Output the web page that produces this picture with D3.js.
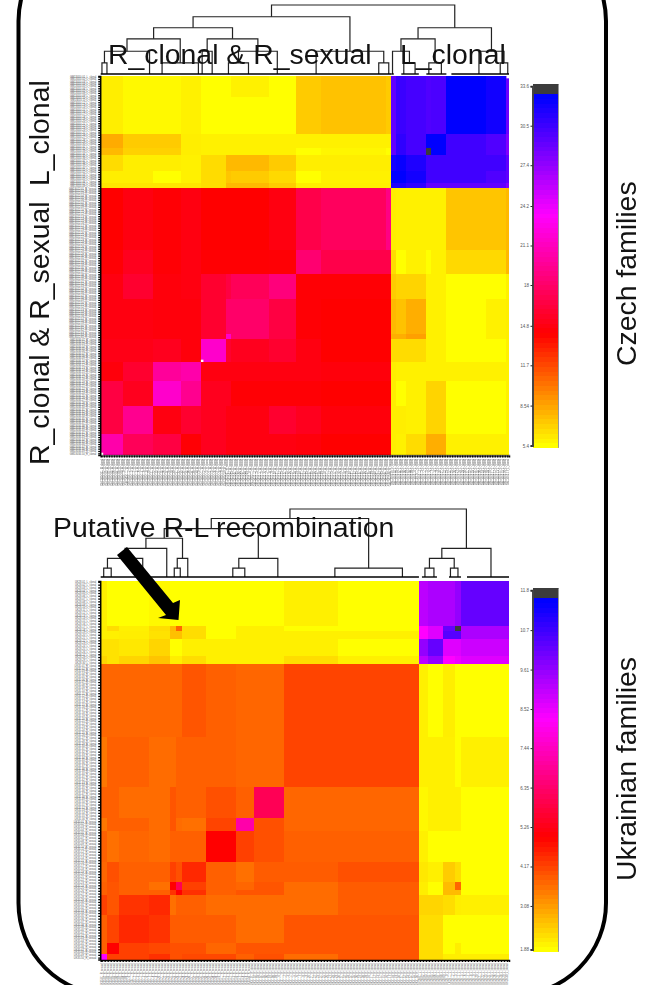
<!DOCTYPE html>
<html>
<head>
<meta charset="utf-8">
<script src="https://cdn.jsdelivr.net/npm/d3@7"></script>
<style>
    html, body { margin: 0; padding: 0; background: #fff; }
    svg { display: block; }
    text { font-family: "Liberation Sans", Arial, sans-serif; }
</style>
</head>
<body>
<div id="chart"></div>
<script>
// Czech families: leaf counts at the end of each block of the clustered matrix
const czechLeaves = 163;
const czechColEnds = [9, 21, 32, 40, 50, 52, 67, 78, 88, 114, 116, 118, 122, 130, 132, 138, 154, 162, 163];
const czechRowEnds = [9, 25, 31, 34, 41, 46, 48, 75, 85, 96, 111, 113, 123, 131, 142, 154, 163];
const czechValues = [
    [6.0, 5.6, 5.6, 5.9, 5.4, 5.4, 5.9, 5.4, 7.2, 7.5, 7.2, 29.2, 30.6, 30.2, 29.8, 30.0, 32.7, 32.1, 28.8],
    [6.0, 5.6, 5.6, 5.9, 5.4, 5.4, 5.4, 5.4, 7.2, 7.5, 7.2, 29.2, 30.6, 30.2, 29.8, 30.0, 32.7, 32.1, 28.8],
    [8.3, 7.2, 7.2, 6.0, 5.9, 5.9, 5.9, 5.9, 5.9, 5.9, 5.9, 29.2, 31.0, 30.2, 32.7, 32.7, 30.4, 29.8, 28.0],
    [7.8, 7.0, 7.0, 6.0, 5.9, 5.9, 5.9, 5.9, 5.4, 5.7, 5.4, 29.2, 31.0, 30.2, 33.6, 32.7, 30.4, 29.8, 28.0],
    [6.6, 6.0, 6.0, 5.9, 6.6, 7.8, 7.8, 7.2, 6.0, 6.0, 6.0, 32.0, 32.4, 31.6, 30.4, 30.4, 30.4, 30.4, 29.2],
    [6.0, 6.0, 5.4, 5.9, 6.6, 7.4, 7.2, 6.7, 5.4, 5.9, 5.9, 32.7, 32.7, 32.0, 30.4, 30.4, 30.4, 29.8, 29.2],
    [6.3, 6.3, 6.3, 6.3, 6.6, 7.8, 7.8, 7.2, 6.0, 6.0, 6.0, 31.6, 31.6, 31.0, 29.2, 29.2, 29.2, 29.2, 28.0],
    [14.2, 14.8, 14.4, 14.8, 14.2, 14.2, 14.2, 14.8, 16.9, 17.6, 19.0, 6.0, 5.9, 5.9, 5.9, 5.9, 7.4, 7.4, 7.8],
    [14.4, 15.3, 14.4, 14.8, 14.3, 14.3, 14.3, 14.4, 18.3, 16.9, 16.9, 6.6, 5.4, 5.9, 5.4, 5.9, 6.7, 6.7, 7.8],
    [14.8, 15.9, 14.6, 14.8, 15.9, 16.6, 17.4, 18.7, 14.4, 14.4, 14.4, 7.2, 6.9, 6.9, 5.9, 5.9, 5.4, 5.4, 5.9],
    [14.8, 14.8, 14.6, 14.6, 15.9, 18.0, 18.0, 16.6, 14.4, 14.2, 14.2, 7.8, 7.5, 8.2, 5.9, 5.9, 5.4, 5.9, 6.0],
    [14.8, 14.8, 14.6, 14.6, 15.9, 21.6, 18.0, 16.6, 14.4, 14.2, 14.2, 8.2, 8.2, 8.7, 5.9, 5.9, 5.4, 5.9, 6.0],
    [15.0, 15.0, 15.3, 14.6, 21.6, 15.9, 15.3, 15.9, 14.8, 14.2, 14.2, 6.6, 6.6, 6.6, 5.9, 5.9, 5.4, 5.4, 5.9],
    [14.6, 15.9, 19.8, 20.4, 14.8, 14.8, 14.8, 14.8, 14.8, 14.6, 14.6, 6.0, 5.9, 5.9, 5.9, 5.9, 5.9, 5.9, 5.9],
    [16.6, 15.3, 21.6, 19.4, 15.3, 15.3, 14.4, 14.4, 14.4, 14.2, 14.2, 6.0, 5.4, 5.9, 6.9, 6.9, 5.4, 5.4, 5.9],
    [16.6, 19.4, 14.8, 15.9, 15.3, 14.8, 14.8, 15.9, 15.3, 14.6, 14.6, 6.0, 6.0, 5.9, 6.9, 6.9, 5.4, 5.4, 5.9],
    [20.4, 17.4, 16.6, 14.4, 15.3, 14.8, 14.8, 14.8, 14.6, 14.2, 14.2, 6.0, 5.9, 6.6, 8.2, 8.2, 5.9, 5.9, 5.9]
];
// single white cells [row leaf, column leaf]
const czechHoles = [[0, 162], [122, 40], [162, 0]];
const czechTicks = [5.4, 8.54, 11.7, 14.8, 18, 21.1, 24.2, 27.4, 30.5, 33.6];
const czechStops = [5.4, 14.2, 23.5, 32.7];
const czechDarkFrom = 33.15;
// [height, left, right] is a join, [first leaf, last leaf] is a flat cluster
const czechTree = [1,
    [0.83,
        [0.67,
            [0.51,
                [0.33, [0.16, [0, 1], [2, 3]], [3, 36]],
                [0.16, [18, 31], [33, 45]]],
            [0.51,
                [0.33, [40, 41], [41, 48]],
                [0.33, [0.16, [46, 56], [54, 64]], [63, 78]]]],
        [0.33, [78, 94], [0.16, [110, 112], [114, 116]]]],
    [0.67,
        [0.51,
            [0.33, [116, 117], [0.16, [120, 122], [124, 127]]],
            [0.16, [130, 132], [134, 138]]],
        [0.33, [146, 156], [0.16, [158, 161], [162, 163]]]]
];
const czechBaseline = [[0, 116], [116, 117], [120, 127], [130, 138], [140, 163]];

// Ukrainian families
const ukrLeaves = 136;
const ukrColEnds = [2, 6, 16, 23, 25, 27, 35, 45, 51, 61, 79, 106, 109, 114, 118, 120, 136];
const ukrRowEnds = [16, 18, 21, 27, 30, 56, 74, 85, 90, 101, 108, 111, 113, 120, 130, 134, 136];
const ukrValues = [
    [2.06, 1.88, 1.88, 1.96, 1.88, 1.88, 1.88, 1.88, 1.88, 1.88, 2.06, 1.88, 9.1, 9.3, 9.3, 9.6, 10.2],
    [2.09, 2.29, 2.06, 2.29, 2.71, 3.74, 2.29, 1.88, 2.06, 2.06, 1.88, 1.88, 8.25, 8.65, 10.2, 11.8, 9.3],
    [2.06, 2.06, 2.09, 2.23, 2.65, 2.65, 2.29, 1.88, 2.06, 2.06, 2.06, 2.06, 8.25, 8.65, 10.4, 10.4, 9.3],
    [2.23, 2.23, 2.16, 2.39, 1.88, 1.88, 2.06, 2.06, 2.06, 2.06, 2.06, 1.88, 9.6, 10.2, 8.65, 8.65, 8.9],
    [2.39, 2.23, 2.39, 2.6, 2.09, 2.09, 2.29, 2.06, 2.06, 2.06, 2.29, 2.06, 9.1, 9.6, 8.25, 8.45, 8.65],
    [3.74, 3.74, 3.74, 3.74, 3.74, 3.74, 3.95, 3.81, 3.74, 3.74, 4.15, 4.15, 2.06, 1.88, 2.09, 1.88, 1.88],
    [3.53, 3.81, 3.81, 3.67, 3.67, 3.81, 3.81, 3.81, 3.74, 3.74, 4.15, 4.15, 2.06, 2.06, 2.06, 1.88, 2.06],
    [3.81, 3.81, 3.67, 3.67, 3.95, 3.81, 3.81, 4.01, 3.81, 6.07, 3.74, 3.74, 1.96, 2.06, 2.06, 2.06, 1.88],
    [3.53, 3.81, 3.81, 3.67, 3.95, 3.67, 3.62, 4.15, 7.16, 4.01, 3.74, 3.74, 1.96, 2.06, 2.06, 2.06, 1.88],
    [3.81, 3.62, 3.74, 3.67, 3.81, 3.81, 3.81, 4.98, 4.2, 4.01, 3.81, 3.81, 2.06, 1.88, 1.88, 1.88, 1.88],
    [3.74, 4.01, 3.81, 3.81, 4.2, 4.01, 4.49, 3.81, 3.62, 3.86, 3.86, 4.01, 2.16, 2.06, 2.5, 2.29, 1.88],
    [3.81, 3.95, 3.81, 3.62, 4.98, 6.07, 4.2, 3.81, 3.74, 3.95, 3.67, 3.86, 2.09, 1.88, 2.71, 3.74, 1.88],
    [3.81, 3.95, 3.81, 3.81, 4.36, 4.98, 4.4, 3.81, 3.95, 3.95, 3.67, 3.86, 2.09, 1.88, 2.71, 2.71, 1.88],
    [4.2, 3.95, 4.36, 4.49, 3.62, 3.81, 3.81, 3.67, 3.67, 3.67, 3.67, 3.86, 2.39, 2.39, 2.29, 2.09, 2.06],
    [3.81, 4.15, 4.49, 4.36, 3.86, 3.86, 3.86, 3.86, 3.67, 3.67, 3.95, 3.95, 2.29, 2.29, 1.88, 1.88, 1.88],
    [3.81, 4.98, 4.2, 4.11, 4.01, 4.01, 4.01, 3.74, 3.95, 3.95, 3.95, 3.95, 2.29, 2.29, 1.88, 2.09, 1.88],
    [8.25, 4.2, 4.2, 4.4, 4.01, 4.01, 4.11, 4.11, 3.81, 4.01, 3.67, 3.95, 2.29, 2.29, 2.09, 2.09, 2.09]
];
const ukrHoles = [];
const ukrTicks = [1.88, 3.08, 4.17, 5.26, 6.35, 7.44, 8.52, 9.61, 10.7, 11.8];
const ukrStops = [1.88, 4.98, 8.25, 11.48];
const ukrDarkFrom = 11.65;
const ukrTree = [1,
    [0.86,
        [0.71,
            [0.57,
                [0.42,
                    [0.275, [0.13, [0, 2], [3, 4]], [8, 20]],
                    [20, 24]],
                [0.275, [0.13, [24, 25], [26, 27]], [28, 30]]],
            [0.275, [0.13, [40, 48], [47, 49]], [50, 68]]],
        [0.13, [70, 86], [95, 106]]],
    [0.42,
        [0.275, [0.13, [107, 109], [110, 112]], [0.13, [116, 117], [118, 120]]],
        [124, 136]]
];
const ukrBaseline = [[0, 106], [107, 112], [116, 120], [122, 136]];

// row and column names, too small to read in the original
const czechRowGroups = [['GM13010', 'L_clonal', 48], ['GM13022', 'R_sexual', 65], ['GM13034', 'R_clonal', 50]];
const czechColGroups = [['GM13034', 'R_clonal', 50], ['GM13022', 'R_sexual', 66], ['GM13010', 'L_clonal', 47]];
const ukrRowGroups = [['UK28', 'L_clonal', 30], ['UK31', 'R_clonal', 56], ['UK35', 'R_sexual', 50]];
const ukrColGroups = [['UK35', 'R_sexual', 50], ['UK31', 'R_clonal', 56], ['UK28', 'L_clonal', 30]];

const svg = d3.select('#chart')
    .append('svg')
    .attr('width', 662)
    .attr('height', 985);

function expandNames(groups) {
    const names = [];
    groups.forEach(function(g) {
        for (let i = 0; i < g[2]; i++) {
            names.push(g[0] + '.' + d3.format('02')(i + 1) + '_' + g[1]);
        }
    });
    return names;
}

function makeColor(stops, darkFrom) {
    const ramp = d3.scaleLinear()
        .domain(stops)
        .range(['#ffff00', '#ff0000', '#ff00ff', '#0000ff'])
        .clamp(true);
    return function(v) {
        return v >= darkFrom ? '#3c3c3c' : ramp(v);
    };
}

function drawPanel(p) {
    const x = d3.scaleLinear().domain([0, p.leaves]).range([p.left, p.right]);
    const y = d3.scaleLinear().domain([0, p.leaves]).range([p.top, p.bottom]);
    const color = makeColor(p.stops, p.darkFrom);
    const g = svg.append('g');

    // heat cells
    const cells = [];
    p.values.forEach(function(row, r) {
        row.forEach(function(v, c) {
            cells.push({
                x0: c ? p.colEnds[c - 1] : 0,
                x1: p.colEnds[c],
                y0: r ? p.rowEnds[r - 1] : 0,
                y1: p.rowEnds[r],
                v: v
            });
        });
    });
    g.selectAll('.cell')
        .data(cells)
        .enter()
        .append('rect')
        .attr('class', 'cell')
        .attr('x', d => x(d.x0))
        .attr('y', d => y(d.y0))
        .attr('width', d => x(d.x1) - x(d.x0))
        .attr('height', d => y(d.y1) - y(d.y0))
        .attr('fill', d => color(d.v))
        .attr('shape-rendering', 'crispEdges');

    g.selectAll('.hole')
        .data(p.holes)
        .enter()
        .append('rect')
        .attr('class', 'hole')
        .attr('x', d => x(d[1]))
        .attr('y', d => y(d[0]))
        .attr('width', x(1) - x(0))
        .attr('height', y(1) - y(0))
        .attr('fill', '#fff');

    // axes with the tiny leaf names
    const rowNames = expandNames(p.rowGroups);
    const colNames = expandNames(p.colGroups);
    const yBand = d3.scaleBand().domain(d3.range(p.leaves)).range([p.top, p.bottom]);
    const xBand = d3.scaleBand().domain(d3.range(p.leaves)).range([p.left, p.right]);

    const yAxis = g.append('g')
        .attr('transform', 'translate(' + (p.left - 0.5) + ',0)')
        .call(d3.axisLeft(yBand).tickSize(2).tickPadding(2).tickFormat(i => rowNames[i]));
    const xAxis = g.append('g')
        .attr('transform', 'translate(0,' + (p.bottom + 0.5) + ')')
        .call(d3.axisBottom(xBand).tickSize(2).tickPadding(2).tickFormat(i => colNames[i]));

    xAxis.selectAll('text')
        .attr('transform', 'rotate(-90)')
        .attr('text-anchor', 'end')
        .attr('dy', '0.32em')
        .attr('x', -3.5)
        .attr('y', 0);

    [yAxis, xAxis].forEach(function(a) {
        a.attr('font-size', null).attr('font-family', null).attr('opacity', 0.99);
        a.selectAll('text').style('font-size', '2.6px').attr('fill', '#555');
        a.selectAll('line').attr('stroke', '#000').attr('stroke-width', 1.3);
        a.select('.domain').attr('stroke', '#000').attr('stroke-width', 1.5);
    });

    // dendrogram above the matrix
    const h = d3.scaleLinear().domain([0, 1]).range([p.dendroBase, p.dendroTop]);
    const dendro = g.append('g')
        .attr('fill', 'none')
        .attr('stroke', '#222')
        .attr('stroke-width', 1.2);

    function walk(node) {
        if (node.length === 2) {
            return {x: x((node[0] + node[1]) / 2), y: h(0)};
        }
        const a = walk(node[1]);
        const b = walk(node[2]);
        const top = h(node[0]);
        dendro.append('path')
            .attr('d', 'M' + a.x + ',' + a.y + 'V' + top + 'H' + b.x + 'V' + b.y);
        return {x: (a.x + b.x) / 2, y: top};
    }
    walk(p.tree);

    dendro.selectAll('.base')
        .data(p.baseline)
        .enter()
        .append('line')
        .attr('class', 'base')
        .attr('x1', d => x(d[0]))
        .attr('x2', d => x(d[1]))
        .attr('y1', h(0))
        .attr('y2', h(0))
        .attr('stroke', '#000')
        .attr('stroke-width', 1.4);

    // colour key
    const key = d3.scaleLinear().domain(d3.extent(p.ticks)).range([p.keyBottom, p.keyTop]);
    const levels = d3.range(76);
    const step = (p.keyBottom + 2.2 - (p.keyTop - 2)) / levels.length;
    const keyBar = g.append('g');
    keyBar.selectAll('rect')
        .data(levels)
        .enter()
        .append('rect')
        .attr('x', 533)
        .attr('width', 25.5)
        .attr('y', d => p.keyBottom + 2.2 - step * (d + 1))
        .attr('height', step + 0.3)
        .attr('fill', d => color(key.invert(p.keyBottom + 2.2 - step * (d + 0.5))))
        .attr('shape-rendering', 'crispEdges');
    keyBar.append('line')
        .attr('x1', 558.5).attr('x2', 558.5)
        .attr('y1', p.keyTop - 2).attr('y2', p.keyBottom + 2.2)
        .attr('stroke', '#999');

    const keyAxis = g.append('g')
        .attr('transform', 'translate(532.5,0)')
        .call(d3.axisLeft(key).tickValues(p.ticks).tickFormat(d => d).tickSize(2).tickPadding(1.5));
    keyAxis.attr('font-size', null).attr('font-family', null).attr('opacity', 0.99);
    keyAxis.selectAll('text').style('font-size', '4.5px').attr('fill', '#555');
    keyAxis.select('.domain').attr('stroke', '#444').attr('stroke-width', 2);
    keyAxis.selectAll('line').attr('stroke', '#222');
}

drawPanel({
    leaves: czechLeaves, colEnds: czechColEnds, rowEnds: czechRowEnds, values: czechValues,
    holes: czechHoles, ticks: czechTicks, stops: czechStops, darkFrom: czechDarkFrom,
    tree: czechTree, baseline: czechBaseline, rowGroups: czechRowGroups, colGroups: czechColGroups,
    left: 100.7, right: 509, top: 76, bottom: 455,
    dendroTop: 5, dendroBase: 74, keyTop: 86.2, keyBottom: 445.6
});

drawPanel({
    leaves: ukrLeaves, colEnds: ukrColEnds, rowEnds: ukrRowEnds, values: ukrValues,
    holes: ukrHoles, ticks: ukrTicks, stops: ukrStops, darkFrom: ukrDarkFrom,
    tree: ukrTree, baseline: ukrBaseline, rowGroups: ukrRowGroups, colGroups: ukrColGroups,
    left: 100.7, right: 509, top: 581, bottom: 959.5,
    dendroTop: 509, dendroBase: 577, keyTop: 590.3, keyBottom: 949.4
});

// rounded outline running off the picture
svg.append('rect')
    .attr('x', 18.5)
    .attr('y', -71)
    .attr('width', 587.5)
    .attr('height', 1066)
    .attr('rx', 92)
    .attr('fill', 'none')
    .attr('stroke', '#000')
    .attr('stroke-width', 4);

// arrow at the recombinant
svg.append('path')
    .attr('d', 'M117,555L127,547L173,603L180,600L178.5,620L158,618L166,615Z')
    .attr('fill', '#000');

const bigLabels = [
    {text: 'R_clonal & R_sexual', x: 108, y: 64, rotate: 0},
    {text: 'L_clonal', x: 400, y: 64, rotate: 0},
    {text: 'Putative R-L recombination', x: 53, y: 537, rotate: 0},
    {text: 'R_clonal & R_sexual', x: 49, y: 465, rotate: -90},
    {text: 'L_clonal', x: 49, y: 186, rotate: -90},
    {text: 'Czech families', x: 636, y: 366, rotate: -90},
    {text: 'Ukrainian families', x: 636, y: 881, rotate: -90}
];

const bigText = svg.append('g').attr('opacity', 0.99);
bigText.selectAll('.big')
    .data(bigLabels)
    .enter()
    .append('text')
    .attr('class', 'big')
    .attr('transform', d => 'translate(' + d.x + ',' + d.y + ')rotate(' + d.rotate + ')')
    .style('font-size', '28.4px')
    .attr('fill', '#111')
    .text(d => d.text);
</script>
</body>
</html>
